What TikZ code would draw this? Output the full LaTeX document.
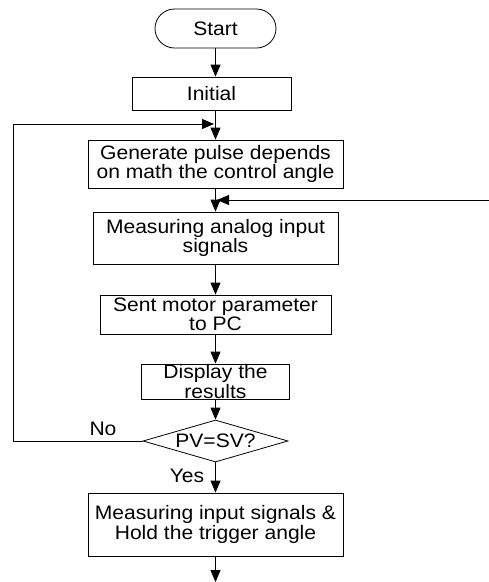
\documentclass[tikz,border=0pt]{standalone}
\usepackage{fontspec}
\setmainfont{Liberation Sans}[FakeStretch=1.08]
\usetikzlibrary{shapes.misc,shapes.geometric,arrows.meta}

\tikzset{
  boite/.style={draw, line width=0.8pt, inner xsep=2pt, inner ysep=0pt, align=center},
  fleche/.style={line width=0.8pt, -{Triangle[length=12pt,width=10pt]}},
}

\begin{document}
\begin{tikzpicture}[x=1pt, y=-1pt, font=\fontsize{19.5}{19.5}\selectfont]
\useasboundingbox (0,0) rectangle (489,582);

%Blocs
\node[boite, rounded rectangle, minimum width=125pt, minimum height=39pt] (start) at (215.5,28.5) {Start};
\node[boite, minimum width=159pt, minimum height=33pt] (init) at (211.5,93.5) {Initial};
\node[boite, minimum width=255pt, minimum height=48pt] (gen) at (215.5,164) {Generate pulse depends\\on math the control angle};
\node[boite, minimum width=245pt, minimum height=52pt] (mes) at (215.5,238) {Measuring analog input\\signals};
\node[boite, minimum width=231pt, minimum height=39pt] (sent) at (215.5,314.5) {Sent motor parameter\\to PC};
\node[boite, minimum width=148pt, minimum height=35pt] (disp) at (215.5,381.5) {Display the\\results};
\node[boite, diamond, aspect=3.5, inner sep=0pt, minimum width=145pt, minimum height=42pt] (test) at (215.5,441) {PV=SV?};
\node[boite, minimum width=255pt, minimum height=63pt] (hold) at (215.5,524.5) {Measuring input signals \&\\Hold the trigger angle};

%Labels
\node (non) at (103,429) {No};
\node (oui) at (187,476) {Yes};

%Fleches
\coordinate (gauche) at (13,124);
\coordinate (j1) at (214,124);
\coordinate (droite) at (489,200);
\coordinate (j2) at (217,200);
\coordinate (fin) at (215.5,582);
\draw[fleche] (start.south) -- (start.south |- init.north);
\draw[fleche] (start.south |- init.south) -- (gen.north);
\draw[fleche] (test.west) -| (gauche) -- (j1);
\draw[fleche] (gen.south) -- (mes.north);
\draw[fleche] (droite) -- (j2);
\draw[fleche] (mes.south) -- (sent.north);
\draw[fleche] (sent.south) -- (disp.north);
\draw[fleche] (disp.south) -- (test.north);
\draw[fleche] (test.south) -- (hold.north);
\draw[fleche] (hold.south) -- (fin);

\end{tikzpicture}
\end{document}
